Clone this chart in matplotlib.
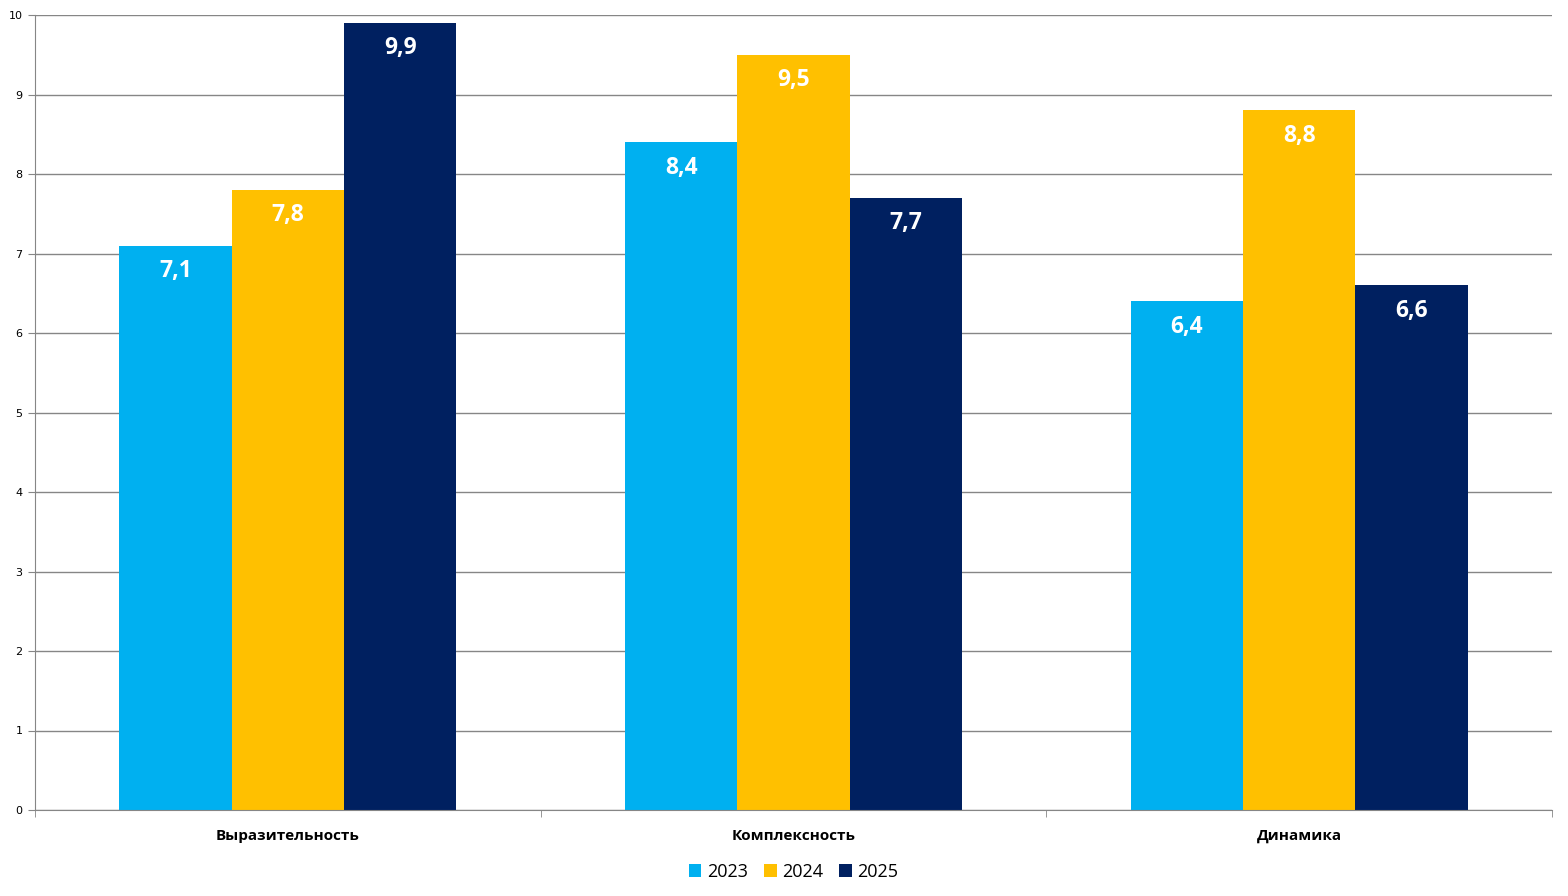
import matplotlib
matplotlib.use("Agg")
import matplotlib.pyplot as plt
import numpy as np

categories = ["Выразительность", "Комплексность", "Динамика"]
years = ["2023", "2024", "2025"]
values_2023 = [7.1, 8.4, 6.4]
values_2024 = [7.8, 9.5, 8.8]
values_2025 = [9.9, 7.7, 6.6]
colors = ["#00B0F0", "#FFC000", "#002060"]

plt.rcParams['font.family'] = ['Open Sans', 'DejaVu Sans']

fig = plt.figure(figsize=(15.68, 8.96), dpi=100)
ax = fig.add_axes([35/1568, 1-810/896, (1552-35)/1568, (810-15)/896])

x = np.arange(len(categories))
w = 0.222
series = [values_2023, values_2024, values_2025]
for i, (vals, c, yr) in enumerate(zip(series, colors, years)):
    bars = ax.bar(x + (i-1)*w, vals, w, color=c, label=yr, zorder=2)
    for b, v in zip(bars, vals):
        ax.text(b.get_x() + b.get_width()/2, v - 0.32, f"{v:.1f}".replace(".", ","),
                ha="center", va="center", color="white", fontsize=16.5, fontweight="bold")

ax.set_xlim(-0.5, 2.5)
ax.set_ylim(0, 10)
ax.set_yticks(range(0, 11))
ax.yaxis.grid(True, color="#868686", linewidth=1, zorder=0)
ax.set_axisbelow(True)
for s in ["top", "right"]:
    ax.spines[s].set_visible(False)
ax.spines["left"].set_color("#868686")
ax.spines["bottom"].set_color("#868686")
ax.tick_params(axis="y", length=5, color="#868686", labelsize=8, pad=4)
for lab in ax.get_yticklabels():
    lab.set_fontfamily("DejaVu Sans")

ax.set_xticks(x)
ax.set_xticklabels(categories, fontsize=11, fontweight="bold")
ax.tick_params(axis="x", which="major", length=0, pad=14)
ax.set_xticks([-0.5, 0.5, 1.5, 2.5], minor=True)
ax.tick_params(axis="x", which="minor", length=5, color="#868686")

ax.legend(loc="upper center", bbox_to_anchor=(0.5, -0.046), ncol=3, frameon=False,
          fontsize=13, handlelength=0.7, handleheight=0.7, handletextpad=0.3,
          columnspacing=0.9)

fig.savefig("out.png", dpi=100)
